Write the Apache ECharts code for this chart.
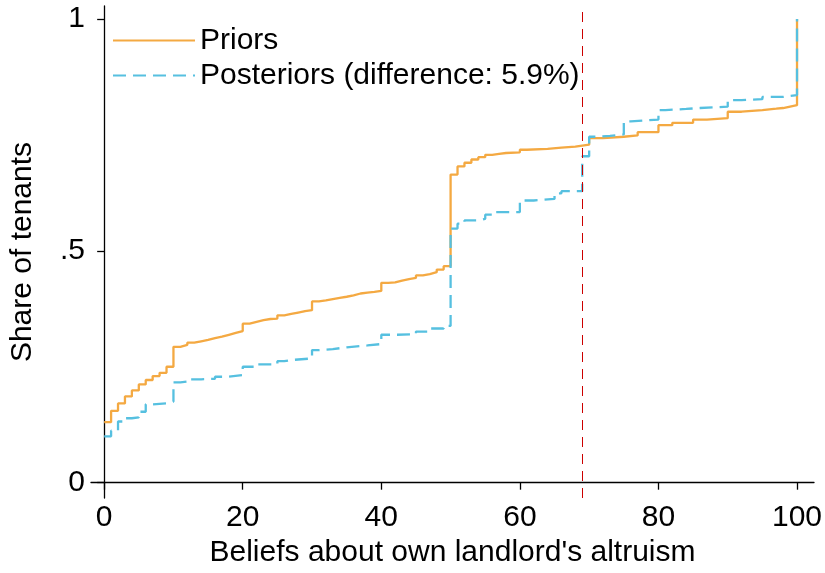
<!DOCTYPE html>
<html lang="en">
<head>
    <meta charset="UTF-8">
    <title>Priors vs posteriors</title>
    <style>
        html, body { margin: 0; padding: 0; background: #fff; }
    </style>
</head>
<body>
<div id="chart-wrap" style="height: 573px;width: 825px;"></div>
</body>
<script src="https://cdn.jsdelivr.net/npm/echarts@6/dist/echarts.min.js"></script>
<script>
    // step points (belief value, share of tenants)
    var priorX = [0, 1, 2, 3, 4, 5, 6, 7, 8, 9, 10, 11, 12, 13, 14, 15, 16, 17, 18, 19,
        20, 21, 22, 23, 24, 25, 26, 27, 28, 29, 30, 31, 32, 33, 34, 35, 36, 37, 38, 39,
        40, 41, 42, 43, 44, 45, 46, 47, 48, 49, 50, 51, 52, 53, 54, 55, 56, 57, 58, 60,
        61, 64, 66, 68, 69, 70, 72, 75, 77, 80, 82, 85, 87, 90, 92, 95, 97, 98, 99, 100];
    var priorY = [.1305, .155, .171, .186, .199, .212, .2215, .230, .237, .250, .293, .297, .302, .305, .308, .312, .315, .319, .323, .327,
        .343, .347, .3505, .353, .354, .361, .364, .367, .370, .372, .391, .393, .396, .3985, .401, .404, .408, .410, .4115, .4135,
        .431, .432, .436, .439, .4415, .447, .450, .454, .4595, .467, .6645, .682, .690, .697, .702, .707, .709, .711, .7125, .718,
        .7197, .7226, .7247, .727, .729, .743, .746, .749, .756, .771, .776, .783, .786, .800, .8036, .8065, .808, .811, .814, 1];

    var postX = [0, 1, 2, 3, 4, 5, 6, 7, 9, 10, 11, 12, 14, 16, 18, 20, 22, 25, 26, 27,
        30, 31, 33, 35, 38, 40, 42, 45, 47, 49, 50, 51, 52, 54, 55, 56, 60, 62, 65, 66,
        69, 70, 71, 73, 75, 76, 80, 81, 84, 86, 90, 92, 95, 98, 99, 100];
    var postY = [.100, .112, .132, .139, .141, .153, .169, .171, .175, .2165, .218, .223, .224, .2285, .232, .250, .255, .262, .2645, .268,
        .286, .288, .292, .296, .299, .319, .320, .326, .3325, .338, .548, .5585, .5655, .569, .578, .5835, .6086, .612, .624, .6286,
        .704, .746, .748, .751, .779, .783, .8036, .806, .808, .811, .825, .827, .832, .834, .836, 1];

    var xTicks = [0, 20, 40, 60, 80, 100];
    var yTicks = [0, 0.5, 1];
    var yTickLabels = ['0', '.5', '1'];
    var cutoff = 69;

    var font = 'Liberation Sans, Helvetica, Arial, sans-serif';

    function pairs(xs, ys) {
        return xs.map(function (x, i) { return [x, ys[i]]; });
    }

    var chart = echarts.init(document.getElementById('chart-wrap'));

    var option = {
        animation: false,
        backgroundColor: '#fff',
        grid: {
            left: 91, right: 11, top: 6, bottom: 75,
            containLabel: false,
            outerBoundsMode: 'none'
        },
        legend: {
            orient: 'vertical',
            left: 107,
            top: 20,
            itemWidth: 82,
            itemHeight: 14,
            itemGap: 4,
            itemStyle: {opacity: 0, borderWidth: 0},
            textStyle: {fontFamily: font, fontSize: 30, color: '#000', lineHeight: 31},
            data: ['Priors', 'Posteriors (difference: 5.9%)']
        },
        xAxis: {
            type: 'value',
            min: -1.9,
            max: 102.45,
            name: "Beliefs about own landlord's altruism",
            nameLocation: 'middle',
            nameGap: 37,
            nameTextStyle: {fontFamily: font, fontSize: 30, color: '#000'},
            splitLine: {show: false},
            axisLine: {lineStyle: {color: '#000', width: 1.3}},
            axisTick: {show: true, length: 7, customValues: xTicks, lineStyle: {color: '#000', width: 1.3}},
            axisLabel: {customValues: xTicks, fontFamily: font, fontSize: 30, color: '#000', margin: 5}
        },
        yAxis: {
            type: 'value',
            min: -0.033,
            max: 1.028,
            name: 'Share of tenants',
            nameLocation: 'middle',
            nameGap: 53,
            nameTextStyle: {fontFamily: font, fontSize: 30, color: '#000'},
            splitLine: {show: false},
            axisLine: {show: true, lineStyle: {color: '#000', width: 1.3}},
            axisTick: {show: true, length: 7, customValues: yTicks, lineStyle: {color: '#000', width: 1.3}},
            axisLabel: {
                customValues: yTicks,
                fontFamily: font, fontSize: 30, color: '#000', margin: 6,
                formatter: function (v) {
                    var i = yTicks.indexOf(v);
                    return i >= 0 ? yTickLabels[i] : '';
                }
            }
        },
        series: [
            {
                name: 'Priors',
                type: 'line',
                step: 'end',
                symbol: 'none',
                data: pairs(priorX, priorY),
                lineStyle: {color: '#f4a942', width: 2.3},
                itemStyle: {color: '#f4a942'},
                z: 3
            },
            {
                name: 'Posteriors (difference: 5.9%)',
                type: 'line',
                step: 'end',
                symbol: 'none',
                data: pairs(postX, postY),
                lineStyle: {color: '#56c0e0', width: 2.3, type: [13, 7]},
                itemStyle: {color: '#56c0e0'},
                z: 4,
                markLine: {
                    silent: true,
                    symbol: 'none',
                    label: {show: false},
                    lineStyle: {color: '#cc0000', width: 1, type: [10, 7]},
                    data: [{xAxis: cutoff}]
                }
            }
        ]
    };

    chart.setOption(option);
</script>
</html>
